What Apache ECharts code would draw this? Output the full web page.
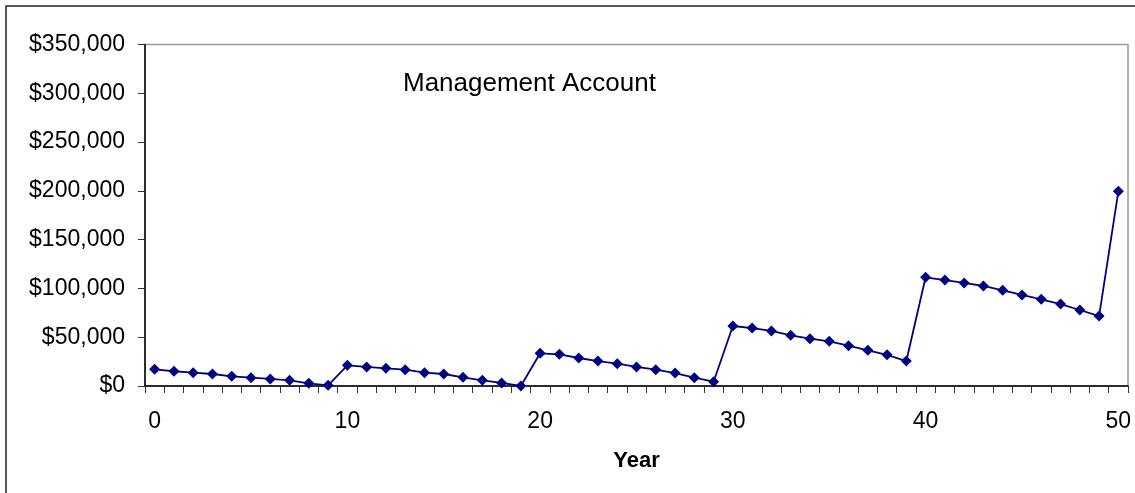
<!DOCTYPE html>
<html>
<head>
<meta charset="utf-8">
<script src="https://cdn.jsdelivr.net/npm/echarts@6/dist/echarts.min.js"></script>
<style>
html,body{margin:0;padding:0;background:#fff;}
#chart{width:1135px;height:493px;}
</style>
</head>
<body>
<div id="chart"></div>
<script>
const years = Array.from({length: 51}, (_, i) => String(i));
const balances = [
  17100, 15100, 13700, 12300, 9900, 8500, 7200, 5800, 2700, 700,
  21200, 19500, 18100, 16700, 13700, 12300, 8900, 5800, 3100, 0,
  33500, 32500, 28700, 25600, 22900, 19500, 16700, 13300, 8500, 4400,
  61500, 59400, 56400, 51900, 48500, 45800, 41300, 36600, 32000, 25600,
  111400, 108600, 105600, 102500, 98100, 93300, 88900, 84000, 77900, 71700,
  199500
];
const titleText = 'Management Account';
const xName = 'Year';

const chart = echarts.init(document.getElementById('chart'), null, {renderer: 'canvas'});
const font = 'Liberation Sans, Arial, sans-serif';
chart.setOption({
  animation: false,
  backgroundColor: '#ffffff',
  graphic: [
    {type: 'rect', shape: {x: 6, y: 6, width: 1140, height: 500},
     style: {fill: 'none', stroke: '#222', lineWidth: 1.5}, z: 100},
    {type: 'text', left: 403, top: 71,
     style: {text: titleText, font: '26px ' + font, fill: '#000'}}
  ],
  grid: {left: 145, right: 7, top: 44.5, bottom: 107, containLabel: false,
         show: true, borderColor: '#999', borderWidth: 1.5, backgroundColor: 'transparent'},
  xAxis: {
    type: 'category',
    data: years,
    boundaryGap: true,
    name: xName,
    nameLocation: 'middle',
    nameGap: 64,
    nameTextStyle: {fontFamily: font, fontSize: 22, fontWeight: 'bold', color: '#000'},
    axisLine: {lineStyle: {color: '#000', width: 1.5}},
    axisTick: {show: true, interval: 0, inside: false, length: 7, lineStyle: {color: '#333'}},
    axisLabel: {interval: 9, margin: 24, fontFamily: font, fontSize: 23, color: '#000'},
    splitLine: {show: false}
  },
  yAxis: {
    type: 'value',
    min: 0, max: 350000, interval: 50000,
    axisLine: {show: true, lineStyle: {color: '#000', width: 1.5}},
    axisTick: {show: true, length: 7, lineStyle: {color: '#333'}},
    axisLabel: {margin: 20, fontFamily: font, fontSize: 23, color: '#000',
      formatter: v => '$' + v.toLocaleString('en-US')},
    splitLine: {show: false}
  },
  series: [{
    type: 'line',
    data: balances,
    symbol: 'diamond',
    symbolSize: 11,
    lineStyle: {color: '#000080', width: 1.8},
    itemStyle: {color: '#000080'}
  }]
});
</script>
</body>
</html>
